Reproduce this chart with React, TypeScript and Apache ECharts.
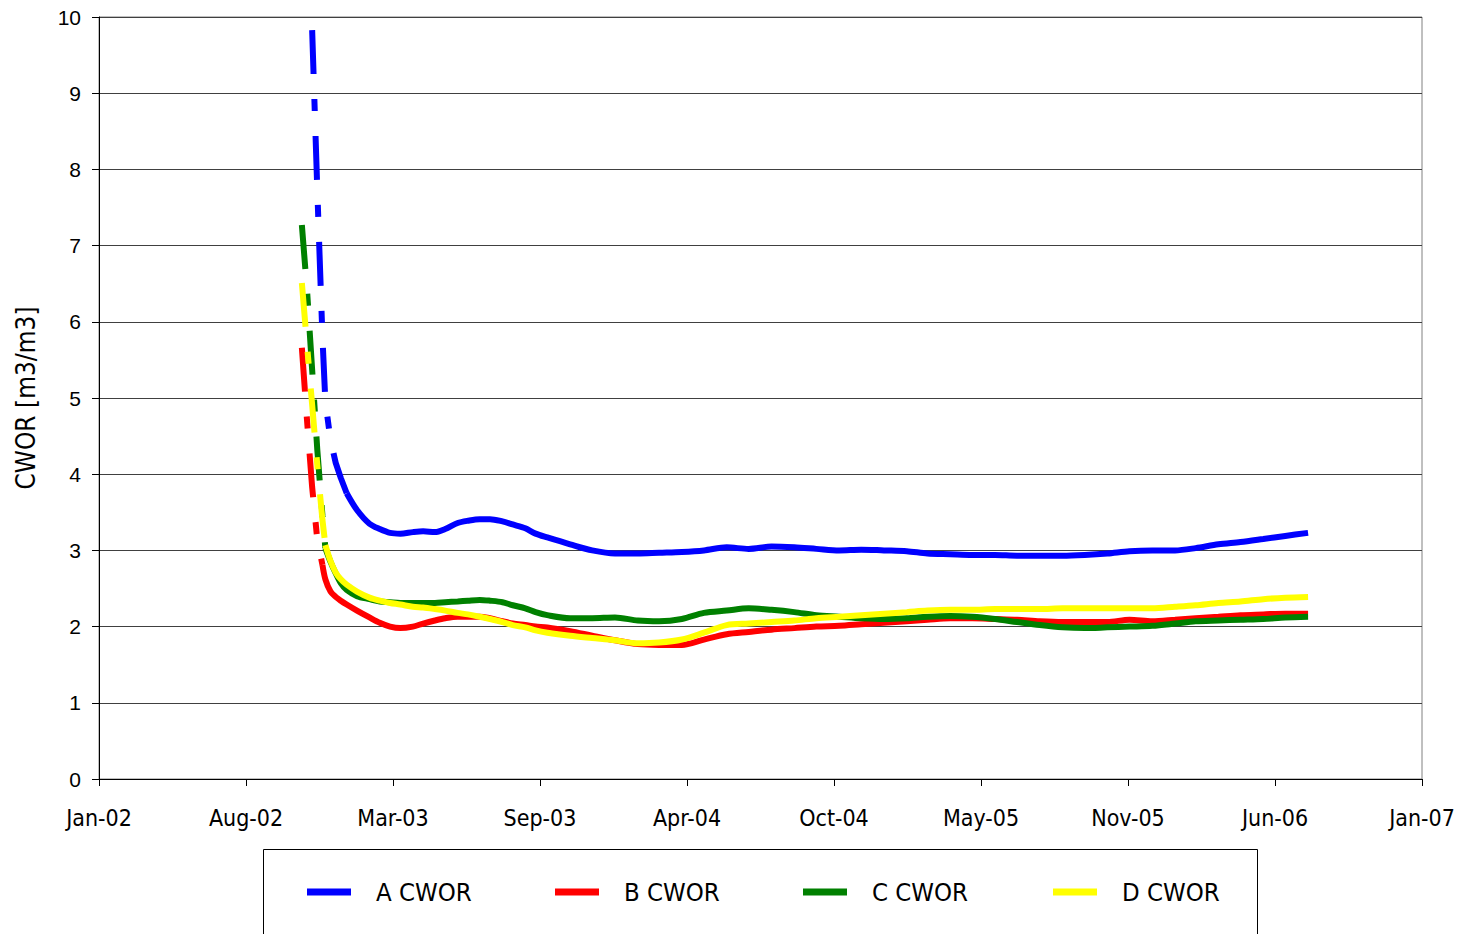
import React, { useEffect, useRef } from "react";
import * as echarts from "echarts";

// Axis start (the "Jan-02" tick) and one tick every 200 days
const AXIS_START = Date.UTC(2002, 0, 29);
const xTickLabels = ["Jan-02", "Aug-02", "Mar-03", "Sep-03", "Apr-04", "Oct-04", "May-05", "Nov-05", "Jun-06", "Jan-07"];
const yTickLabels = ["0", "1", "2", "3", "4", "5", "6", "7", "8", "9", "10"];

const dates = [
  "2002-11-01", "2002-11-08", "2002-11-15", "2002-11-22", "2002-11-29", "2002-12-03", "2002-12-10", "2002-12-17", "2002-12-24",
  "2003-01-01", "2003-01-15", "2003-02-01", "2003-02-15", "2003-03-01", "2003-03-15", "2003-04-01", "2003-04-15", "2003-05-01",
  "2003-05-15", "2003-06-01", "2003-06-15", "2003-07-01", "2003-07-15", "2003-08-01", "2003-08-15", "2003-09-01", "2003-09-15",
  "2003-10-01", "2003-11-01", "2003-12-01",
  "2004-01-01", "2004-02-01", "2004-03-01", "2004-04-01", "2004-05-01", "2004-06-01", "2004-07-01", "2004-08-01", "2004-09-01",
  "2004-10-01", "2004-11-01", "2004-12-01",
  "2005-01-01", "2005-02-01", "2005-03-01", "2005-04-01", "2005-05-01", "2005-06-01", "2005-07-01", "2005-08-01", "2005-09-01",
  "2005-10-01", "2005-11-01", "2005-12-01",
  "2006-01-01", "2006-02-01", "2006-03-01", "2006-04-01", "2006-05-01", "2006-06-01", "2006-07-01", "2006-08-01",
];

const aCwor = [
  14.0, 12.2, 9.83, 7.73, 5.8, 4.95, 4.45, 4.15, 3.95,
  3.75, 3.53, 3.35, 3.28, 3.23, 3.22, 3.24, 3.25, 3.24,
  3.28, 3.36, 3.39, 3.41, 3.41, 3.38, 3.34, 3.29, 3.22,
  3.17, 3.08, 3.0,
  2.96, 2.96, 2.97, 2.98, 3.0, 3.04, 3.02, 3.05, 3.04,
  3.02, 3.0, 3.01,
  3.0, 2.99, 2.96, 2.95, 2.94, 2.94, 2.93, 2.93, 2.93,
  2.94, 2.96, 2.99,
  3.0, 3.0, 3.03, 3.08, 3.11, 3.15, 3.19, 3.23,
];
const bCwor = [
  5.66, 4.71, 3.83, 3.14, 2.81, 2.62, 2.46, 2.39, 2.34,
  2.29, 2.21, 2.12, 2.05, 2.0, 1.98, 2.0, 2.04, 2.08,
  2.11, 2.13, 2.13, 2.13, 2.11, 2.07, 2.04, 2.02, 2.0,
  1.99, 1.94, 1.88,
  1.82, 1.77, 1.76, 1.76, 1.83, 1.9, 1.93, 1.96, 1.98,
  2.0, 2.01, 2.03,
  2.05, 2.07, 2.09, 2.11, 2.11, 2.1, 2.09, 2.07, 2.06,
  2.06, 2.06, 2.09,
  2.07, 2.09, 2.11, 2.13, 2.15, 2.16, 2.17, 2.17,
];
const cCwor = [
  7.27, 6.42, 5.37, 4.32, 3.46, 3.03, 2.85, 2.7, 2.57,
  2.48, 2.4, 2.36, 2.33, 2.32, 2.31, 2.31, 2.31, 2.31,
  2.32, 2.33, 2.34, 2.35, 2.34, 2.32, 2.28, 2.24, 2.19,
  2.15, 2.11, 2.11,
  2.12, 2.08, 2.07, 2.1, 2.18, 2.21, 2.24, 2.22, 2.19,
  2.15, 2.13, 2.11,
  2.1, 2.11, 2.13, 2.14, 2.13, 2.1, 2.06, 2.02, 1.99,
  1.98, 1.99, 2.0,
  2.01, 2.04, 2.07, 2.08, 2.09, 2.1, 2.12, 2.13,
];
const dCwor = [
  6.51, 5.7, 4.91, 4.12, 3.4, 3.07, 2.86, 2.71, 2.62,
  2.55, 2.46, 2.38, 2.34, 2.31, 2.29, 2.26, 2.25, 2.23,
  2.21, 2.18, 2.16, 2.13, 2.1, 2.06, 2.02, 1.99, 1.95,
  1.92, 1.88, 1.85,
  1.82, 1.78, 1.79, 1.83, 1.92, 2.02, 2.04, 2.06, 2.08,
  2.11, 2.13, 2.15,
  2.17, 2.19, 2.21, 2.22, 2.22, 2.23, 2.23, 2.23, 2.24,
  2.24, 2.24, 2.24,
  2.24, 2.26, 2.28, 2.31, 2.33, 2.36, 2.38, 2.39,
];

const seriesNames = ["A CWOR", "B CWOR", "C CWOR", "D CWOR"];
const seriesValues = [aCwor, bCwor, cCwor, dCwor];
const seriesColors = ["#0000FF", "#FF0000", "#008000", "#FFFF00"];
// index of the last point of the steep (dashed-looking) start of each series
const steepEnd = [9, 4, 5, 5];

const NARROW = "'Liberation Sans Narrow', 'Arial Narrow', 'DejaVu Sans Condensed', sans-serif";
const REGULAR = "'Liberation Sans', Arial, sans-serif";

const toDay = (d: string) => (Date.parse(d) - AXIS_START) / 86400000;

export default function App() {
  const ref = useRef<HTMLDivElement>(null);
  useEffect(() => {
    if (!ref.current) return;
    const chart = echarts.init(ref.current, undefined, { renderer: "svg" });
    const series: any[] = [];
    seriesNames.forEach((name, i) => {
      const pts = dates.map((d, j) => [toDay(d), seriesValues[i][j]]);
      series.push({
        name: name + " (start)",
        type: "line",
        data: pts.slice(0, steepEnd[i] + 1),
        showSymbol: false,
        symbol: "none",
        smooth: false,
        clip: true,
        color: seriesColors[i],
        lineStyle: { color: seriesColors[i], width: 6, type: [44, 25, 12, 25], cap: "butt" },
        silent: true,
      });
      series.push({
        name,
        type: "line",
        data: pts.slice(steepEnd[i]),
        showSymbol: false,
        symbol: "none",
        smooth: 0.3,
        clip: true,
        color: seriesColors[i],
        itemStyle: { color: seriesColors[i] },
        lineStyle: { color: seriesColors[i], width: 6, cap: "butt" },
        silent: true,
      });
    });
    const legendLefts = [302, 550, 798, 1048];
    const legends = seriesNames.map((name, i) => ({
      show: true,
      data: [{ name, icon: "rect" }],
      left: legendLefts[i],
      top: 872,
      orient: "horizontal",
      itemWidth: 44,
      itemHeight: 7,
      selectedMode: false,
      textStyle: {
        fontFamily: NARROW,
        fontSize: 25.5,
        color: "#000",
        padding: [0, 0, 0, 20],
        lineHeight: 30,
      },
    }));
    chart.setOption({
      animation: false,
      backgroundColor: "#fff",
      grid: {
        left: 99,
        right: 40,
        top: 17,
        bottom: 155,
        show: true,
        borderColor: "#808080",
        borderWidth: 1,
      },
      legend: legends,
      xAxis: {
        type: "value",
        min: 0,
        max: 1800,
        interval: 200,
        axisLine: { show: true, lineStyle: { color: "#000", width: 1 } },
        axisTick: { show: true, inside: false, length: 7, lineStyle: { color: "#000" } },
        splitLine: { show: false },
        axisLabel: {
          formatter: (v: number) => xTickLabels[Math.round(v / 200)] ?? "",
          fontFamily: NARROW,
          fontSize: 23,
          color: "#000",
          margin: 27,
        },
      },
      yAxis: {
        type: "value",
        min: 0,
        max: 10,
        interval: 1,
        name: "CWOR [m3/m3]",
        nameLocation: "middle",
        nameRotate: 90,
        nameGap: 60,
        nameTextStyle: { fontFamily: NARROW, fontSize: 26, color: "#000" },
        axisLine: { show: true, lineStyle: { color: "#000", width: 1 } },
        axisTick: { show: true, inside: false, length: 7, lineStyle: { color: "#000" } },
        splitLine: { show: true, lineStyle: { color: "#404040", width: 1 } },
        axisLabel: {
          formatter: (v: number) => yTickLabels[Math.round(v)] ?? "",
          fontFamily: REGULAR,
          fontSize: 21,
          color: "#000",
          margin: 18,
        },
      },
      graphic: [
        {
          type: "rect",
          z: -1,
          shape: { x: 263.5, y: 849.5, width: 994, height: 120 },
          style: { fill: "#fff", stroke: "#000", lineWidth: 1 },
        },
      ],
      series,
    });
    return () => chart.dispose();
  }, []);
  return (
    <div
      ref={ref}
      style={{ position: "absolute", left: 0, top: 0, width: 1462, height: 934, background: "#fff" }}
    />
  );
}
